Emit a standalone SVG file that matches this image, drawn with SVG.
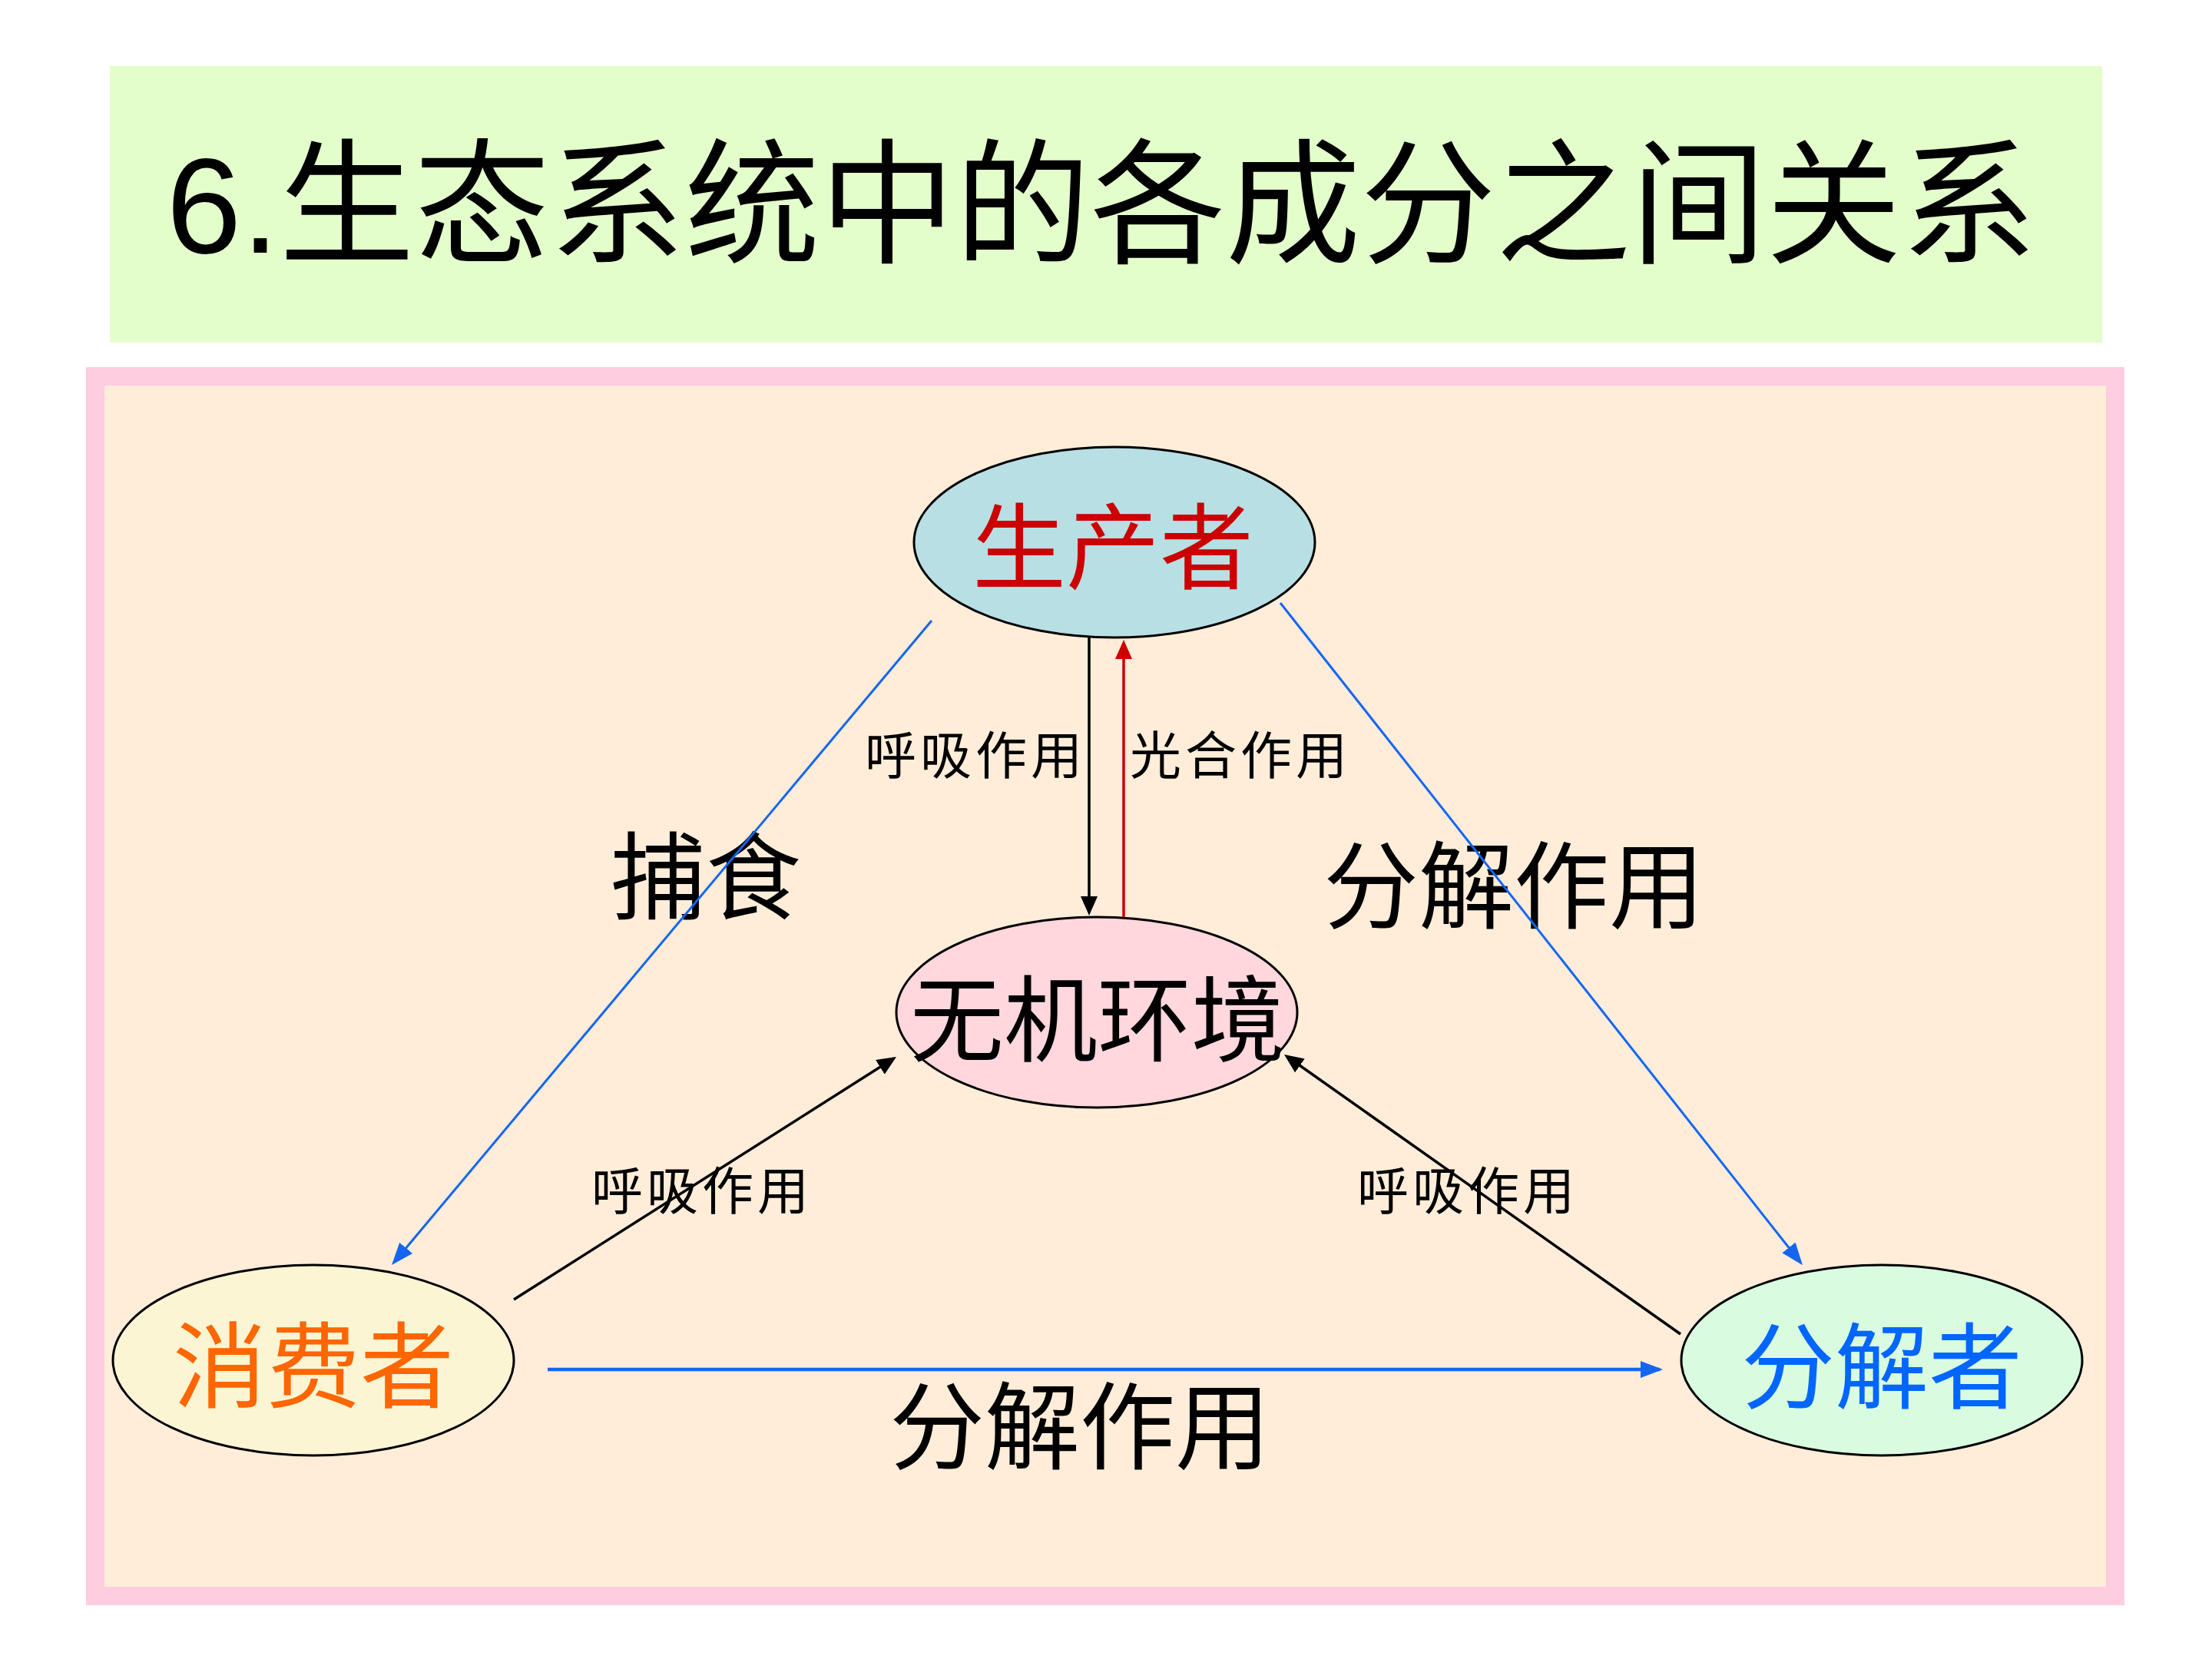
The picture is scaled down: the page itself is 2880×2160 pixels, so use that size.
<svg xmlns="http://www.w3.org/2000/svg" width="2880" height="2160" viewBox="0 0 2880 2160">
  <style>
    .cjk { font-family: "Liberation Serif", "Noto Sans CJK SC", serif; }
    .title { font-family: "Liberation Sans", "Noto Sans CJK SC", sans-serif; font-size: 176px; fill: #000; }
    .node { stroke: #000; stroke-width: 3; }
    .big { font-size: 122px; }
    .small { font-size: 67px; letter-spacing: 5px; fill: #000; }
    .lbl { font-size: 124px; fill: #000; }
    .blk { stroke: #000; stroke-width: 3.5; fill: none; }
    .red { stroke: #CC0000; stroke-width: 3.5; fill: none; }
    .blu { stroke: #1466F0; stroke-width: 3; fill: none; }
    .bluh { stroke: #1466F0; stroke-width: 4.5; fill: none; }
  </style>
  <defs>
    <marker id="ahBlack" markerUnits="userSpaceOnUse" markerWidth="26" markerHeight="24" refX="21" refY="11" orient="auto">
      <path d="M0,0 L25,11 L0,22 z" fill="#000"/>
    </marker>
    <marker id="ahRed" markerUnits="userSpaceOnUse" markerWidth="26" markerHeight="24" refX="21" refY="11" orient="auto">
      <path d="M0,0 L25,11 L0,22 z" fill="#CC0000"/>
    </marker>
    <marker id="ahBlue" markerUnits="userSpaceOnUse" markerWidth="30" markerHeight="24" refX="25" refY="11" orient="auto">
      <path d="M0,0 L29,11 L0,22 z" fill="#1466F0"/>
    </marker>
  </defs>

  <rect x="0" y="0" width="2880" height="2160" fill="#FFFFFF"/>

  <g id="title">
    <rect x="143" y="86" width="2594" height="360" fill="#E3FDCB"/>
    <text class="title" x="1434" y="268" text-anchor="middle" dominant-baseline="central">6.生态系统中的各成分之间关系</text>
  </g>

  <g id="frame">
    <rect x="124" y="490" width="2630" height="1588" fill="#FFEDD9" stroke="#FFCCE0" stroke-width="24"/>
  </g>

  <g id="producer">
    <ellipse class="node" cx="1451" cy="706" rx="261" ry="124" fill="#B8DFE4"/>
    <text class="cjk big" x="1449" y="715" text-anchor="middle" dominant-baseline="central" fill="#CC0000">生产者</text>
  </g>

  <g id="environment">
    <ellipse class="node" cx="1428" cy="1318" rx="261" ry="124" fill="#FFD7DD"/>
    <text class="cjk big" x="1429" y="1330" text-anchor="middle" dominant-baseline="central" fill="#000">无机环境</text>
  </g>

  <g id="consumer">
    <ellipse class="node" cx="408" cy="1771" rx="261" ry="124" fill="#FCF5D4"/>
    <text class="cjk big" x="408" y="1781" text-anchor="middle" dominant-baseline="central" fill="#FF6600">消费者</text>
  </g>

  <g id="decomposer">
    <ellipse class="node" cx="2450" cy="1771" rx="261" ry="124" fill="#D9FCE1"/>
    <text class="cjk big" x="2450" y="1782" text-anchor="middle" dominant-baseline="central" fill="#0066FF">分解者</text>
  </g>

  <g id="labels">
    <text class="cjk small" x="1126" y="985" dominant-baseline="central">呼吸作用</text>
    <text class="cjk small" x="1471" y="985" dominant-baseline="central">光合作用</text>
    <text class="cjk small" x="770" y="1552" dominant-baseline="central">呼吸作用</text>
    <text class="cjk small" x="1767" y="1552" dominant-baseline="central">呼吸作用</text>
    <text class="cjk lbl" x="795" y="1145" dominant-baseline="central">捕食</text>
    <text class="cjk lbl" x="1723" y="1157" dominant-baseline="central">分解作用</text>
    <text class="cjk lbl" x="1158" y="1861" dominant-baseline="central">分解作用</text>
  </g>

  <g id="connectors">
    <line class="blk" x1="1418" y1="830" x2="1418" y2="1188" marker-end="url(#ahBlack)"/>
    <line class="red" x1="1463" y1="1194" x2="1463" y2="837" marker-end="url(#ahRed)"/>
    <line class="blu" x1="1213" y1="808" x2="512.6" y2="1644" marker-end="url(#ahBlue)"/>
    <line class="blu" x1="1667" y1="785" x2="2344.5" y2="1644" marker-end="url(#ahBlue)"/>
    <line class="bluh" x1="713" y1="1783" x2="2161" y2="1783" marker-end="url(#ahBlue)"/>
    <line class="blk" x1="669" y1="1692" x2="1163.6" y2="1378.1" marker-end="url(#ahBlack)"/>
    <line class="blk" x1="2188" y1="1737" x2="1675.3" y2="1375.3" marker-end="url(#ahBlack)"/>
  </g>
</svg>
